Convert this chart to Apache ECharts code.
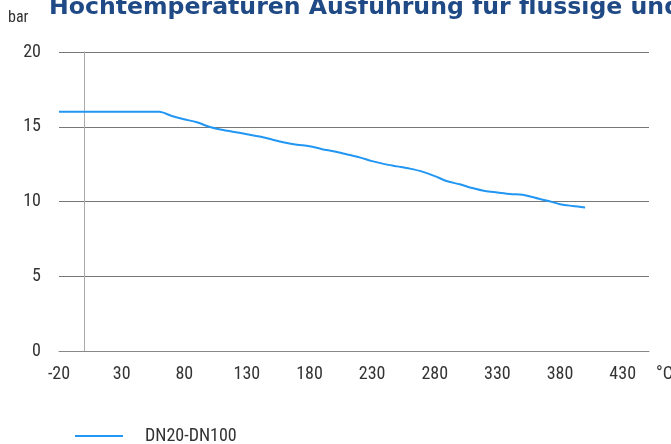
<!DOCTYPE html>
<html>
<head>
<meta charset="utf-8">
<style>html,body{margin:0;padding:0;background:#fff;}#c{width:671px;height:444px;}</style>
<script src="https://cdn.jsdelivr.net/npm/echarts@6/dist/echarts.min.js"></script>
</head>
<body>
<div id="c"></div>
<script>
var titleText = 'Hochtemperaturen Ausführung für flüssige und gasförmige Medien';
var seriesName = 'DN20-DN100';
var temps = [-20, 0, 20, 40, 60, 70, 80, 90, 100, 110, 120, 130, 140, 150, 160, 170, 180, 190, 200, 210, 220, 230, 240, 250, 260, 270, 280, 290, 300, 310, 320, 330, 340, 350, 360, 370, 380, 390, 400];
var pressures = [16, 16, 16, 16, 16, 15.72, 15.5, 15.3, 15.0, 14.8, 14.65, 14.5, 14.35, 14.15, 13.95, 13.8, 13.7, 13.5, 13.35, 13.15, 12.95, 12.7, 12.5, 12.35, 12.2, 12.0, 11.7, 11.35, 11.15, 10.9, 10.7, 10.6, 10.5, 10.45, 10.25, 10.05, 9.82, 9.7, 9.6];
var xTicks = [-20, 30, 80, 130, 180, 230, 280, 330, 380, 430];
var yTicks = [0, 5, 10, 15, 20];

var font = '"Liberation Sans Narrow", "Roboto Condensed", Roboto, sans-serif';
var chart = echarts.init(document.getElementById('c'));
chart.setOption({
  animation: false,
  title: {
    text: titleText, left: 44, top: -9,
    textStyle: {fontFamily: '"DejaVu Sans", Verdana, sans-serif', fontWeight: 'bold', fontSize: 23.6, color: '#1f4a85'}
  },
  legend: {
    left: 70, top: 422, itemWidth: 48, itemHeight: 10, icon: 'path://M0,4L48,4L48,6L0,6Z',
    textStyle: {fontFamily: font, fontSize: 18, color: '#333', padding: [0, 0, 0, 17]},
    data: [seriesName]
  },
  graphic: [
    {type: 'text', left: 8, top: 10, style: {text: 'bar', font: '16px ' + font, fill: '#333'}},
    {type: 'text', left: 656, top: 365, style: {text: '°C', font: '18px ' + font, fill: '#333'}}
  ],
  grid: {left: 59, right: 22, top: 52, bottom: 93, containLabel: false},
  xAxis: {
    type: 'value', min: -20, max: 451,
    axisLine: {show: true, onZero: true, lineStyle: {color: '#888', width: 1}},
    axisTick: {show: false},
    splitLine: {show: false},
    axisLabel: {customValues: xTicks, margin: 14, fontFamily: font, fontSize: 18, color: '#333'}
  },
  yAxis: {
    type: 'value', min: 0, max: 20, interval: 5,
    axisLine: {show: true, onZero: true, lineStyle: {color: '#aaa', width: 1}},
    axisTick: {show: false},
    splitLine: {show: true, lineStyle: {color: '#777', width: 1}},
    axisLabel: {customValues: yTicks, margin: 18, fontFamily: font, fontSize: 18, color: '#333'}
  },
  series: [{
    name: seriesName, type: 'line', showSymbol: false, smooth: 0.3,
    lineStyle: {color: '#2196f3', width: 2}, itemStyle: {color: '#2196f3'},
    data: temps.map(function (t, i) { return [t, pressures[i]]; })
  }]
});
</script>
</body>
</html>
